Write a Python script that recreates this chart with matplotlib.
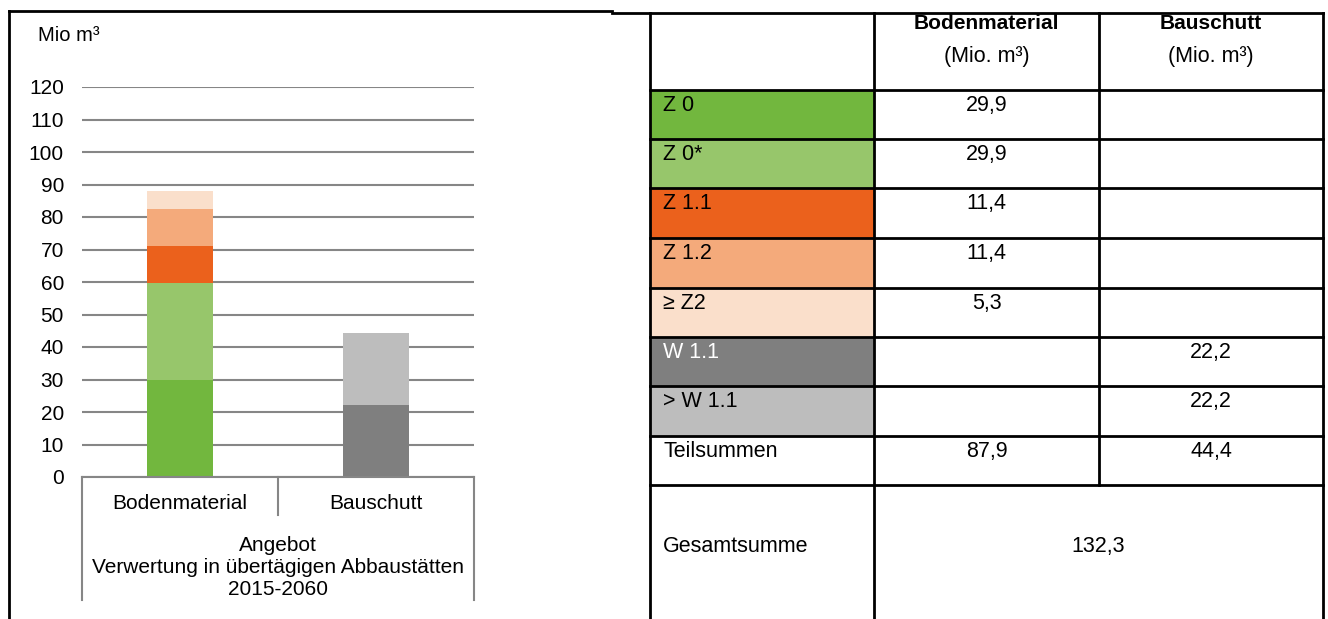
import matplotlib
matplotlib.use('Agg')
import matplotlib.pyplot as plt
import matplotlib.transforms as mtransforms
import numpy as np

plt.rcParams['font.family'] = ['Liberation Sans', 'DejaVu Sans']

# data
categories = ['Bodenmaterial', 'Bauschutt']
classes = ['Z 0', 'Z 0*', 'Z 1.1', 'Z 1.2', '≥ Z2', 'W 1.1', '> W 1.1']
boden = [29.9, 29.9, 11.4, 11.4, 5.3, 0, 0]
bauschutt = [0, 0, 0, 0, 0, 22.2, 22.2]
colors = ['#72B73E', '#97C66B', '#EB611C', '#F4AA7B', '#FADFCB', '#7F7F7F', '#BDBDBD']
text_colors = ['black', 'black', 'black', 'black', 'black', 'white', 'black']
yticks = np.arange(0, 130, 10)
group_label = 'Angebot\nVerwertung in übertägigen Abbaustätten\n2015-2060'

W, H = 1328, 619
FS = 15  # Grundschrift
fig = plt.figure(figsize=(W / 100, H / 100), dpi=100)

# Hintergrund in Pixelkoordinaten (Rahmen + Tabelle)
bg = fig.add_axes([0, 0, 1, 1], zorder=0)
bg.set_xlim(0, W)
bg.set_ylim(H, 0)
bg.axis('off')

# Rahmen um das Diagramm
bg.plot([9, 9], [H, 11], color='black', lw=2)
bg.plot([9, 612], [11, 11], color='black', lw=2)

# ---- Diagramm ----
gx0, gx1, gy0, gy1 = 82, 474, 477, 87
ax = fig.add_axes([gx0 / W, 1 - gy0 / H, (gx1 - gx0) / W, (gy0 - gy1) / H], zorder=1)
ax.set_facecolor('none')
x = np.arange(len(categories))
bottom = np.zeros(len(categories))
for i, c in enumerate(classes):
    vals = np.array([boden[i], bauschutt[i]])
    ax.bar(x, vals, width=0.34, bottom=bottom, color=colors[i], zorder=2)
    bottom += vals
ax.set_xlim(-0.5, 1.5)
ax.set_ylim(0, 120)
ax.set_yticks(yticks)
ax.set_yticklabels([str(v) for v in yticks], fontsize=FS)
ax.tick_params(axis='y', length=0, pad=13)
ax.set_xticks([])
for s in ['top', 'right', 'left']:
    ax.spines[s].set_visible(False)
ax.spines['bottom'].set_color('#868686')
ax.spines['bottom'].set_linewidth(1.5)
ax.yaxis.grid(True, color='#868686', lw=1.5, zorder=1)
ax.set_axisbelow(True)

# mehrstufige Kategorienachse
tr = mtransforms.blended_transform_factory(ax.transData, ax.transAxes)
for xv, ybot in [(-0.5, -0.315), (0.5, -0.097), (1.5, -0.315)]:
    ax.plot([xv, xv], [0, ybot], color='#868686', lw=1.5, transform=tr, clip_on=False)
for xi, name in zip(x, categories):
    ax.text(xi, -0.067, name, transform=tr, ha='center', va='center', fontsize=FS)
ax.text(0.5, -0.232, group_label, transform=tr, ha='center', va='center',
        fontsize=FS, linespacing=1.2)
fig.text(38 / W, 1 - 41 / H, 'Mio m³', fontsize=14.5, ha='left', va='baseline')

# ---- Tabelle ----
cols = [650, 874, 1099, 1323]
rows = [13, 90, 139, 188, 238, 288, 337, 386, 436, 485, H + 5]
TF = 15.5

# Kopf
for j, name in enumerate(categories):
    cx = (cols[j + 1] + cols[j + 2]) / 2
    bg.text(cx, 29, name, ha='center', va='baseline', fontsize=TF - 0.5, fontweight='bold')
    bg.text(cx, 62, '(Mio. m³)', ha='center', va='baseline', fontsize=TF)

for i, c in enumerate(classes):
    top, bot = rows[i + 1], rows[i + 2]
    bg.add_patch(plt.Rectangle((cols[0], top), cols[1] - cols[0], bot - top,
                               facecolor=colors[i], edgecolor='none'))
    bg.text(cols[0] + 13, top + 21, c, ha='left', va='baseline', fontsize=TF,
            color=text_colors[i])
    for j, vals in enumerate([boden, bauschutt]):
        if vals[i]:
            cx = (cols[j + 1] + cols[j + 2]) / 2
            bg.text(cx, top + 21, f'{vals[i]:.1f}'.replace('.', ','),
                    ha='center', va='baseline', fontsize=TF)

# Teilsummen und Gesamtsumme
tops = rows[-3]
bg.text(cols[0] + 13, tops + 21, 'Teilsummen', ha='left', va='baseline', fontsize=TF)
for j, vals in enumerate([boden, bauschutt]):
    cx = (cols[j + 1] + cols[j + 2]) / 2
    bg.text(cx, tops + 21, f'{sum(vals):.1f}'.replace('.', ','),
            ha='center', va='baseline', fontsize=TF)
bg.text(cols[0] + 13, 552, 'Gesamtsumme', ha='left', va='baseline', fontsize=TF)
total = sum(boden) + sum(bauschutt)
bg.text((cols[1] + cols[3]) / 2, 552, f'{total:.1f}'.replace('.', ','),
        ha='center', va='baseline', fontsize=TF)

# Tabellenlinien
lw = 2
bg.plot([612, cols[3]], [rows[0], rows[0]], color='black', lw=lw)
for r in rows[1:-1]:
    bg.plot([cols[0], cols[3]], [r, r], color='black', lw=lw)
for k, cx in enumerate(cols):
    ybot = rows[-2] if k == 2 else H
    bg.plot([cx, cx], [rows[0], ybot], color='black', lw=lw)

fig.savefig('out.png', dpi=100)
